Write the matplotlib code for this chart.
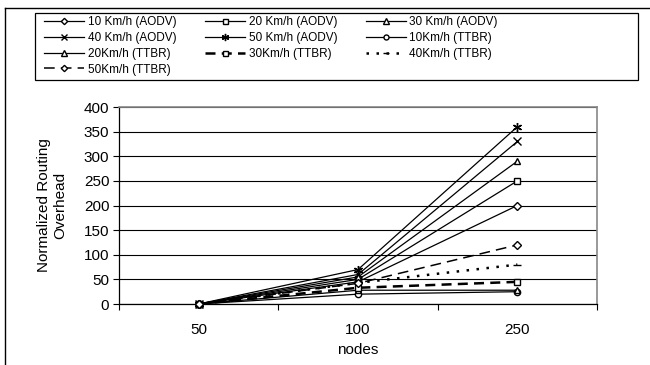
import matplotlib
matplotlib.use("Agg")
import matplotlib.pyplot as plt
from matplotlib.lines import Line2D
from matplotlib.patches import Rectangle
import numpy as np

plt.rcParams['font.family'] = ['Liberation Sans', 'DejaVu Sans']

# data
nodes = ["50", "100", "250"]
labels = ["10 Km/h (AODV)", "20 Km/h (AODV)", "30 Km/h (AODV)",
          "40 Km/h (AODV)", "50 Km/h (AODV)", "10Km/h (TTBR)",
          "20Km/h (TTBR)", "30Km/h (TTBR)", "40Km/h (TTBR)",
          "50Km/h (TTBR)"]
aodv_10 = [0, 45, 200]
aodv_20 = [0, 50, 250]
aodv_30 = [0, 55, 290]
aodv_40 = [0, 60, 330]
aodv_50 = [0, 70, 360]
ttbr_10 = [0, 20, 25]
ttbr_20 = [0, 28, 28]
ttbr_30 = [0, 33, 45]
ttbr_40 = [0, 43, 80]
ttbr_50 = [0, 42, 120]
series = [aodv_10, aodv_20, aodv_30, aodv_40, aodv_50,
          ttbr_10, ttbr_20, ttbr_30, ttbr_40, ttbr_50]

# style per series: (linestyle, linewidth, marker, markersize)
styles = [
    ("-", 0.9, "D", 4),
    ("-", 0.9, "s", 4.5),
    ("-", 0.9, "^", 5),
    ("-", 0.9, "x", 5.5),
    ("-", 0.9, (6, 2, 0), 6.5),
    ("-", 0.9, "o", 4.5),
    ("-", 0.9, "^", 5),
    ((0, (4, 2.5)), 1.8, "s", 4.5),
    ((0, (1, 3)), 1.8, "_", 5.5),
    ((0, (7, 4)), 1.1, "D", 4),
]

fig = plt.figure(figsize=(6.5, 3.65), dpi=100)
ax = fig.add_axes([0.1831, 0.1671, 0.7354, 0.5397])

x = np.arange(len(nodes)) + 0.5
handles = []
for vals, lab, (ls, lw, mk, ms) in zip(series, labels, styles):
    h, = ax.plot(x, vals, color="black", linestyle=ls, linewidth=lw,
                 marker=mk, markersize=ms, markerfacecolor="white",
                 markeredgecolor="black", markeredgewidth=1.0, label=lab,
                 clip_on=False, zorder=3)
    handles.append(h)

ax.set_xlim(0, len(nodes))
ax.set_ylim(0, 400)
ax.set_yticks(np.arange(0, 401, 50))
ax.yaxis.grid(True, color="black", linewidth=0.8)
ax.set_axisbelow(True)

ax.set_xticks(np.arange(0, len(nodes) + 1))
ax.set_xticklabels([])
ax.set_xticks(x, minor=True)
ax.set_xticklabels(nodes, minor=True)
ax.tick_params(axis="x", which="major", direction="out", length=4, width=0.8)
ax.tick_params(axis="x", which="minor", length=0, pad=14, labelsize=11)
ax.tick_params(axis="y", direction="out", length=4, width=0.8, pad=3, labelsize=11)

for side in ["top", "right"]:
    ax.spines[side].set_color("#888888")
    ax.spines[side].set_linewidth(1.2)
for side in ["left", "bottom"]:
    ax.spines[side].set_color("black")
    ax.spines[side].set_linewidth(0.9)

ax.set_xlabel("nodes", fontsize=11, labelpad=4)
ax.set_ylabel("Normalized Routing\nOverhead", fontsize=11)
ax.yaxis.set_label_coords(-0.108, 0.5)

# outer frame of the figure
fig.add_artist(Line2D([5 / 650, 5 / 650], [0, 1 - 8 / 365], color="black", lw=1.0))
fig.add_artist(Line2D([5 / 650, 1], [1 - 8 / 365, 1 - 8 / 365], color="black", lw=1.0))

# legend box
fig.add_artist(Rectangle((35 / 650, 1 - 80 / 365), 603 / 650, 67 / 365,
                         transform=fig.transFigure, fill=False,
                         edgecolor="black", lw=0.9))
order = [0, 3, 6, 9, 1, 4, 7, 2, 5, 8]
fig.legend([handles[i] for i in order], [labels[i] for i in order],
           ncol=3, loc="upper left", bbox_to_anchor=(36 / 650, 1 - 8 / 365),
           frameon=False, fontsize=8.5, handlelength=3.4, columnspacing=2.4,
           handletextpad=0.3, labelspacing=0.32, borderpad=0.2,
           markerscale=0.8)

fig.savefig("out.png", dpi=100)
